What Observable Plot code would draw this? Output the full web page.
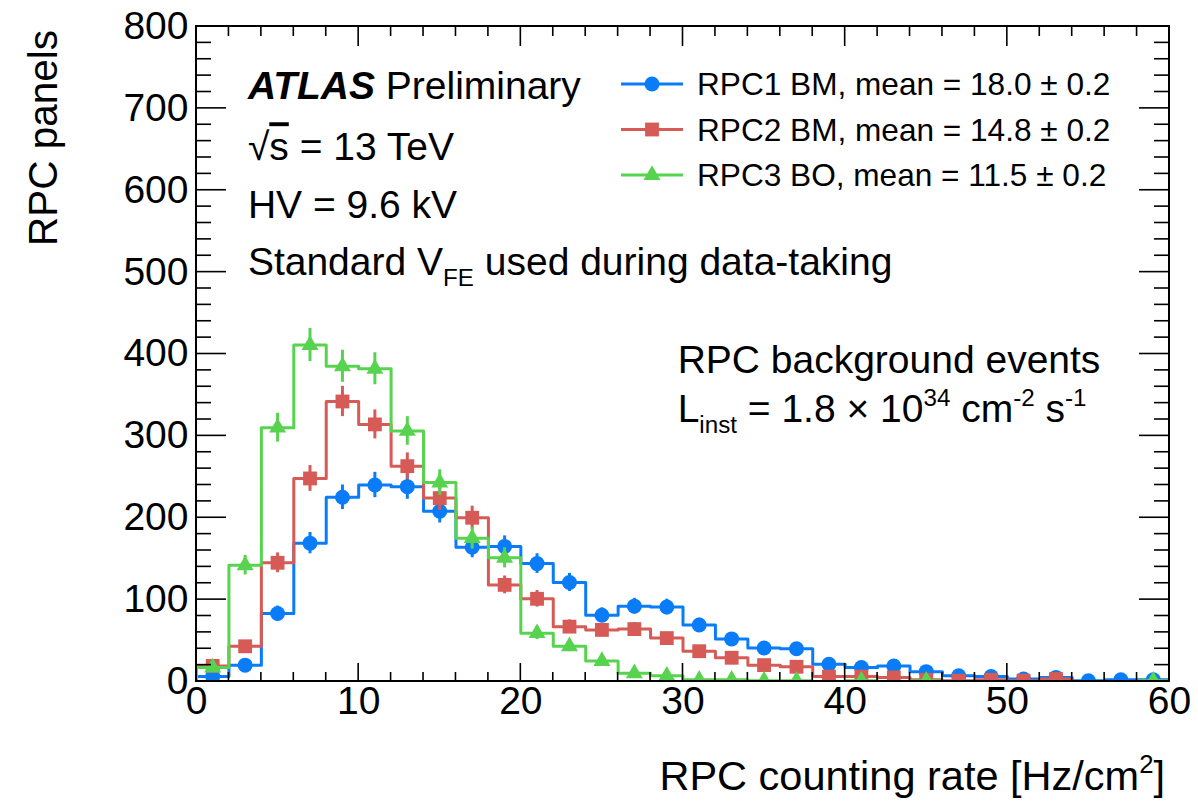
<!DOCTYPE html>
<html>
<head>
<meta charset="utf-8">
<script src="https://cdn.jsdelivr.net/npm/d3@7"></script>
<script src="https://cdn.jsdelivr.net/npm/@observablehq/plot@0.6"></script>
<style>
  html, body { margin: 0; padding: 0; background: #fff; }
  svg { display: block; }
</style>
</head>
<body>
<div id="chart"></div>
<script>
// RPC counting rate distributions, 2 Hz/cm2 bins from 0 to 60
const binWidth = 2;
const binCenters = [1, 3, 5, 7, 9, 11, 13, 15, 17, 19, 21, 23, 25, 27, 29,
                    31, 33, 35, 37, 39, 41, 43, 45, 47, 49, 51, 53, 55, 57, 59];

// number of RPC panels per bin
const rpc1BM = [6, 20, 83, 169, 225, 240, 238, 208, 164, 165, 144, 121, 81, 92, 91,
                69, 52, 41, 40, 21, 17, 19, 12, 7, 6, 3, 5, 1, 2, 2];
const rpc2BM = [19, 43, 145, 248, 342, 314, 263, 224, 200, 118, 101, 67, 63, 64, 53,
                37, 29, 20, 18, 6, 6, 5, 2, 1, 2, 1, 3, 0, 0, 0];
const rpc3BO = [17, 142, 310, 411, 385, 382, 306, 243, 175, 151, 59, 43, 25, 10, 7,
                2, 2, 1, 1, 0, 1, 0, 1, 0, 0, 0, 0, 0, 0, 1];

const seriesLabels = ["RPC1 BM, mean = 18.0 \u00b1 0.2",
                      "RPC2 BM, mean = 14.8 \u00b1 0.2",
                      "RPC3 BO, mean = 11.5 \u00b1 0.2"];
const seriesColors = ["#0a7cf8", "#d65a55", "#58d350"];
const seriesSymbols = ["circle", "square", "triangle"];
const seriesRadius = [7.5, 7.8, 6.3];

const xTicks = [0, 10, 20, 30, 40, 50, 60];
const yTicks = [0, 100, 200, 300, 400, 500, 600, 700, 800];

const FONT = "'Liberation Sans', Arial, Helvetica, sans-serif";
const W = 1198, H = 805;

const series = [rpc1BM, rpc2BM, rpc3BO].map((values, i) => ({
  values, label: seriesLabels[i], color: seriesColors[i],
  symbol: seriesSymbols[i], r: seriesRadius[i]
}));

// histogram outline: up from the axis at the first edge, down at the last edge
function outline(values) {
  const lo = binCenters[0] - binWidth / 2;
  const hi = binCenters[binCenters.length - 1] + binWidth / 2;
  const pts = [{x: lo, y: 0}];
  values.forEach((v, i) => pts.push({x: binCenters[i] - binWidth / 2, y: v}));
  pts.push({x: hi, y: values[values.length - 1]});
  pts.push({x: hi, y: 0});
  return pts;
}

// text with bold-italic, overline, sub- and superscript runs
function writeRich(sel, parts, size) {
  let shift = 0;
  for (const [str, kind] of parts) {
    const t = sel.append("tspan").text(str);
    let target = 0;
    if (kind === "sup") target = -0.42 * size;
    if (kind === "sub") target = 0.28 * size;
    t.attr("dy", target - shift);
    shift = target;
    if (kind === "sup" || kind === "sub") t.attr("font-size", 0.62 * size);
    if (kind === "bi") t.attr("font-weight", "bold").attr("font-style", "italic");
    if (kind === "over") t.attr("text-decoration", "overline");
  }
}

function annotation(parts, xv, yv, size, anchor = "start") {
  return (index, {x, y}) => {
    const g = d3.create("svg:g");
    const txt = g.append("text")
      .attr("x", x(xv)).attr("y", y(yv))
      .attr("font-size", size).attr("text-anchor", anchor)
      .attr("fill", "#000").attr("font-family", FONT);
    writeRich(txt, parts, size);
    return g.node();
  };
}

// frame with inward ticks on all four sides
function frame(index, {x, y}, values, dims) {
  const L = dims.marginLeft, R = dims.width - dims.marginRight;
  const T = dims.marginTop, B = dims.height - dims.marginBottom;
  const g = d3.create("svg:g").attr("stroke", "#000").attr("fill", "none");
  const ticks = g.append("g").attr("stroke-width", 1.6);
  for (const v of d3.range(0, 801, 20)) {
    const len = v % 100 === 0 ? 30 : 15;
    const py = y(v);
    ticks.append("line").attr("x1", L).attr("x2", L + len).attr("y1", py).attr("y2", py);
    ticks.append("line").attr("x1", R).attr("x2", R - len).attr("y1", py).attr("y2", py);
  }
  for (const v of d3.range(0, 61, 2)) {
    const px = x(v);
    const lb = v % 10 === 0 ? 18 : 9;
    const lt = v % 10 === 0 ? 20 : 10;
    ticks.append("line").attr("x1", px).attr("x2", px).attr("y1", B).attr("y2", B - lb);
    ticks.append("line").attr("x1", px).attr("x2", px).attr("y1", T).attr("y2", T + lt);
  }
  g.append("rect").attr("x", L).attr("y", T).attr("width", R - L).attr("height", B - T)
    .attr("stroke-width", 2);
  return g.node();
}

// legend block in the upper right of the frame
function legend(index, scales, values, dims) {
  const g = d3.create("svg:g").attr("font-family", FONT).attr("text-anchor", "start");
  const L = dims.marginLeft, T = dims.marginTop;
  series.forEach((s, i) => {
    const cy = T + 58 + i * 45.5;
    g.append("line").attr("x1", L + 425).attr("x2", L + 487).attr("y1", cy).attr("y2", cy)
      .attr("stroke", s.color).attr("stroke-width", 3);
    const sym = {circle: d3.symbolCircle, square: d3.symbolSquare, triangle: d3.symbolTriangle}[s.symbol];
    g.append("path").attr("d", d3.symbol(sym, Math.PI * s.r * s.r)())
      .attr("transform", `translate(${L + 456},${cy})`).attr("fill", s.color);
    g.append("text").attr("x", L + 501).attr("y", cy).attr("dy", "0.36em")
      .attr("text-anchor", "start")
      .attr("font-size", 31.6).attr("fill", "#000").text(s.label);
  });
  return g.node();
}

function axisTitles(index, scales, values, dims) {
  const g = d3.create("svg:g").attr("font-family", FONT).attr("fill", "#000");
  const xt = g.append("text").attr("x", dims.width - 33).attr("y", 790)
    .attr("font-size", 41.5).attr("text-anchor", "end");
  writeRich(xt, [["RPC counting rate [Hz/cm", ""], ["2", "sup"], ["]", ""]], 41.5);
  g.append("text").attr("transform", `translate(57,${dims.marginTop + 4}) rotate(-90)`)
    .attr("font-size", 40.5).attr("text-anchor", "end").text("RPC panels");
  return g.node();
}

const marks = [];
for (const s of series) {
  const pts = binCenters.map((c, i) => ({c, v: s.values[i]})).filter(d => d.v > 0);
  marks.push(Plot.line(outline(s.values), {
    x: "x", y: "y", curve: "step-after", stroke: s.color, strokeWidth: 3, clip: true
  }));
  marks.push(Plot.ruleX(pts, {
    x: "c", y1: d => Math.max(0, d.v - Math.sqrt(d.v)), y2: d => d.v + Math.sqrt(d.v),
    stroke: s.color, strokeWidth: 3, clip: true
  }));
  marks.push(Plot.dot(pts, {
    x: "c", y: "v", symbol: s.symbol, r: s.r, fill: s.color, stroke: "none", clip: true
  }));
}

const chart = Plot.plot({
  width: W,
  height: H,
  marginLeft: 196,
  marginRight: 29,
  marginTop: 26,
  marginBottom: 124,
  style: {fontFamily: FONT, background: "#fff", color: "#000"},
  x: {domain: [0, 60], label: null},
  y: {domain: [0, 800], label: null},
  marks: [
    ...marks,
    frame,
    Plot.axisX(xTicks, {tickSize: 0, tickPadding: 5, fontSize: 39, label: null, tickFormat: d => String(d)}),
    Plot.axisY(yTicks, {tickSize: 0, tickPadding: 8, fontSize: 39, label: null, tickFormat: d => String(d)}),
    annotation([["ATLAS", "bi"], [" Preliminary", ""]], 3.2, 711, 39),
    annotation([["\u221a", ""], ["s", "over"], [" = 13 TeV", ""]], 3.2, 636, 39),
    annotation([["HV = 9.6 kV", ""]], 3.2, 565, 39),
    annotation([["Standard V", ""], ["FE", "sub"], [" used during data-taking", ""]], 3.2, 496, 39),
    annotation([["RPC background events", ""]], 29.7, 376, 39),
    annotation([["L", ""], ["inst", "sub"], [" = 1.8 \u00d7 10", ""], ["34", "sup"], [" cm", ""], ["-2", "sup"], [" s", ""], ["-1", "sup"]], 29.7, 316, 39),
    legend,
    axisTitles
  ]
});

document.getElementById("chart").append(chart);
</script>
</body>
</html>
